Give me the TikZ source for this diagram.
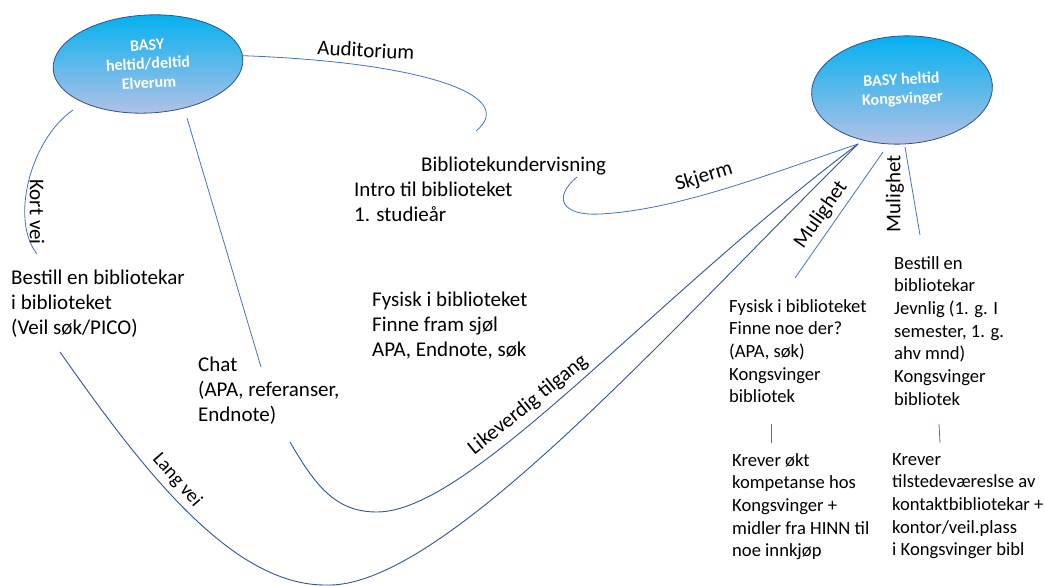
\documentclass[tikz,border=0pt]{standalone}
\usepackage{fontspec}
\setmainfont{Carlito}
\usetikzlibrary{shapes.geometric}
\definecolor{lineblue}{RGB}{68,114,196}
\definecolor{darkline}{RGB}{47,85,151}
\definecolor{ellborder}{RGB}{47,82,143}
\definecolor{elltop}{RGB}{0,176,240}
\definecolor{ellbot}{RGB}{182,194,230}
\tikzset{
  basy/.style={ellipse, draw=ellborder, line width=0.8pt, top color=elltop, bottom color=ellbot,
    text=white, font=\bfseries\fontsize{16}{19}\selectfont, align=center, inner sep=0pt},
  txt/.style={anchor=north west, align=left, inner sep=0pt, font=\fontsize{21}{25}\selectfont},
  smalltxt/.style={txt, font=\fontsize{18.6}{22.7}\selectfont},
  lbl/.style={inner sep=0pt, font=\fontsize{21}{24}\selectfont},
  conn/.style={lineblue, line width=0.8pt},
  longconn/.style={darkline, line width=0.9pt},
}

\begin{document}
\begin{tikzpicture}[x=1pt, y=-1pt]
\useasboundingbox (0,0) rectangle (1045,586);
\node[basy, minimum width=190pt, minimum height=98pt, rotate=3] (elv) at (148,64) {BASY\\heltid/deltid\\Elverum};
\node[basy, minimum width=181pt, minimum height=108pt, rotate=3] (kong) at (902,90) {BASY heltid\\Kongsvinger};

\node[txt] (bibl) at (421,157) {Bibliotekundervisning};
\node[txt] (intro) at (354,182) {Intro til biblioteket\\1. studieår};
\node[txt] (bestill) at (11,270) {Bestill en bibliotekar\\i biblioteket\\(Veil søk/PICO)};
\node[txt] (fysisk) at (372,292) {Fysisk i biblioteket\\Finne fram sjøl\\APA, Endnote, søk};
\node[txt] (chat) at (198,357) {Chat\\(APA, referanser,\\Endnote)};
\node[smalltxt] (kfysisk) at (729,299) {Fysisk i biblioteket\\Finne noe der?\\(APA, søk)\\Kongsvinger\\bibliotek};
\node[smalltxt] (kbestill) at (894,256) {Bestill en\\bibliotekar\\Jevnlig (1. g. I\\semester, 1. g.\\ahv mnd)\\Kongsvinger\\bibliotek};
\node[smalltxt] (krever1) at (732,453) {Krever økt\\kompetanse hos\\Kongsvinger +\\midler fra HINN til\\noe innkjøp};
\node[smalltxt] (krever2) at (892,453) {Krever\\tilstedeværeslse av\\kontaktbibliotekar +\\kontor/veil.plass\\i Kongsvinger bibl};

\coordinate (hub) at (858,144);
\coordinate (audend) at (476,131);
\coordinate (kort1) at (73,110);
\coordinate (kort2) at (37,254);
\coordinate (chat1) at (187,118);
\coordinate (chat2) at (261,367);
\coordinate (skj) at (577,177);
\coordinate (lang) at (60,352);
\coordinate (like) at (290,442);
\coordinate (mul1a) at (883,152);
\coordinate (mul1b) at (795,278);
\coordinate (mul2a) at (905,147);
\coordinate (mul2b) at (920,235);
\coordinate (krev1a) at (771,424);
\coordinate (krev1b) at (771,443);
\coordinate (krev2a) at (939,424);
\coordinate (krev2b) at (940,443);

\draw[conn] (elv.2) .. controls (420,62) and (520,95) .. (audend);
\draw[conn] (kort1) .. controls (30,140) and (10,220) .. (kort2);
\draw[conn] (chat1) -- (chat2);
\draw[conn] (skj) .. controls (552,198) and (562,216) .. (600,214) .. controls (680,210) and (780,170) .. (hub);
\draw[longconn] (lang) .. controls (140,466) and (230,585) .. (325,585) .. controls (440,590) and (660,340) .. (hub);
\draw[longconn] (like) .. controls (315,485) and (335,512) .. (377,512) .. controls (470,512) and (650,300) .. (hub);
\draw[conn] (mul1a) -- (mul1b);
\draw[conn] (mul2a) -- (mul2b);
\draw[conn] (krev1a) -- (krev1b);
\draw[conn] (krev2a) -- (krev2b);

\node[lbl, rotate=-3] (aud) at (366,50) {Auditorium};
\node[lbl, rotate=17] (skjerm) at (704,177) {Skjerm};
\node[lbl, rotate=-90] (kort) at (37,212) {Kort vei};
\node[lbl, rotate=-49, font=\fontsize{19.5}{22}\selectfont] (langlbl) at (177,480) {Lang vei};
\node[lbl, rotate=39] (likelbl) at (528,405) {Likeverdig tilgang};
\node[lbl, rotate=55] (mul1) at (821,215) {Mulighet};
\node[lbl, rotate=90] (mul2) at (895,194) {Mulighet};
\end{tikzpicture}
\end{document}
